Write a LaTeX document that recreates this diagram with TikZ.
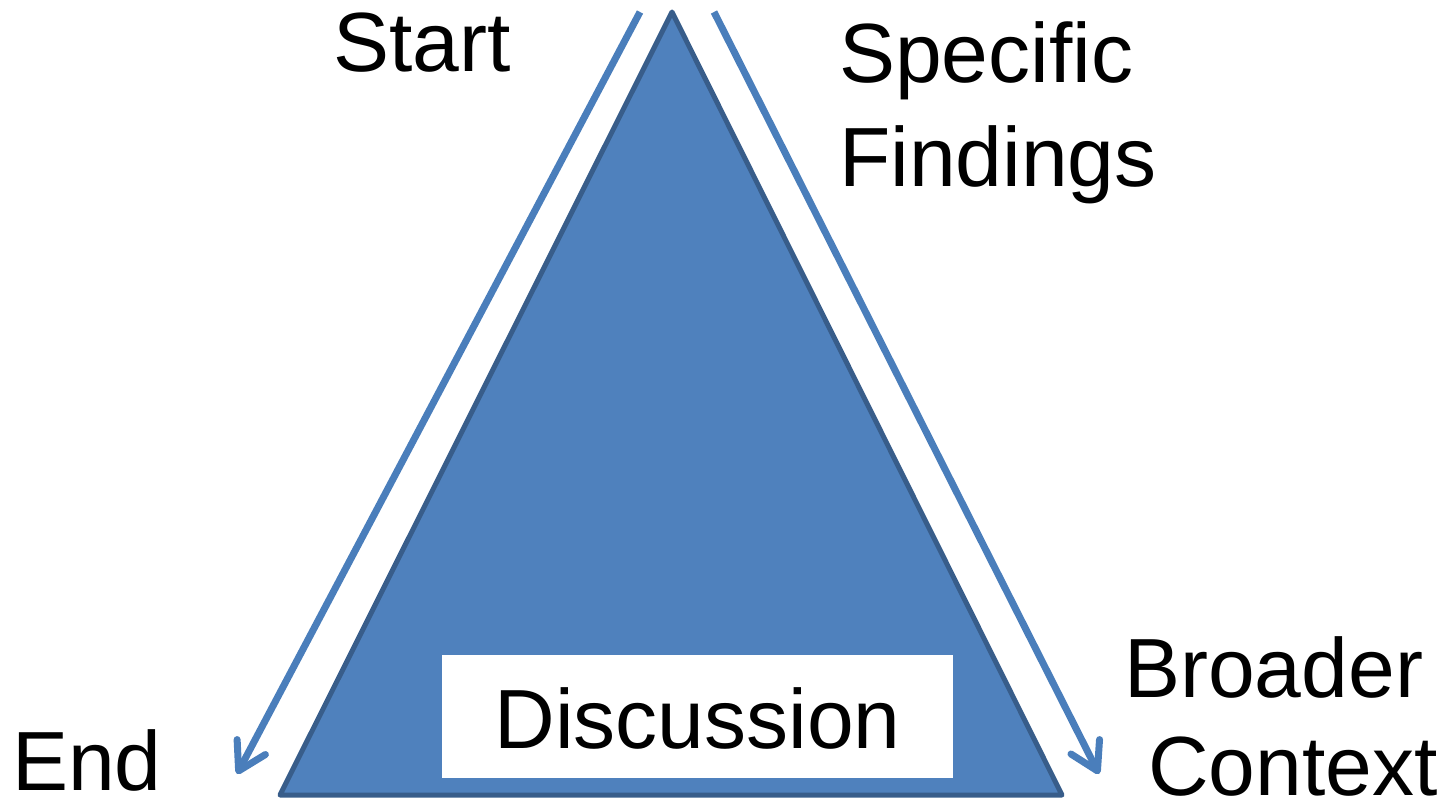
\documentclass[tikz,border=0pt]{standalone}
\usepackage{fontspec}
\setmainfont{Liberation Sans}
\usetikzlibrary{arrows.meta}
\definecolor{pyrfill}{HTML}{4F81BD}
\definecolor{pyredge}{HTML}{385D8A}
\definecolor{flow}{HTML}{4A7EBB}
\begin{document}
\begin{tikzpicture}[x=1pt,y=-1pt,
  label text/.style={font=\fontsize{84}{100}\selectfont, inner sep=0pt, text=black},
  flowarrow/.style={draw=flow, line width=7pt,
    -{Straight Barb[length=27pt,width=32pt,line cap=round,line join=round]}}]
  \useasboundingbox (0,0) rectangle (1454,802);
  % the pyramid
  \coordinate (apex) at (672,12);
  \coordinate (bl) at (280,795);
  \coordinate (br) at (1062,795);
  \filldraw[fill=pyrfill, draw=pyredge, line width=5pt, line join=round]
    (apex) -- (br) -- (bl) -- cycle;
  % label box inside the base
  \node[fill=white, minimum width=511pt, minimum height=123pt, inner sep=0pt]
    (box) at (697.5,716.5) {};
  \node[label text, anchor=base] (disc) at (697.5,748) {Discussion};
  % reading direction arrows
  \coordinate (ls) at (640,12);
  \coordinate (le) at (237,774);
  \coordinate (rs) at (714,12);
  \coordinate (re) at (1099,774);
  \draw[flowarrow] (ls) -- (le);
  \draw[flowarrow] (rs) -- (re);
  % labels
  \node[label text, anchor=base west] (start) at (333,72) {Start};
  \node[label text, anchor=base west] (spec) at (839,83) {Specific};
  \node[label text, anchor=base west] (find) at (839,187) {Findings};
  \node[label text, anchor=base west] (end) at (12,790) {End};
  \node[label text, anchor=base west] (broad) at (1124,697) {Broader};
  \node[label text, anchor=base west] (ctx) at (1148,795) {Context};
\end{tikzpicture}
\end{document}
